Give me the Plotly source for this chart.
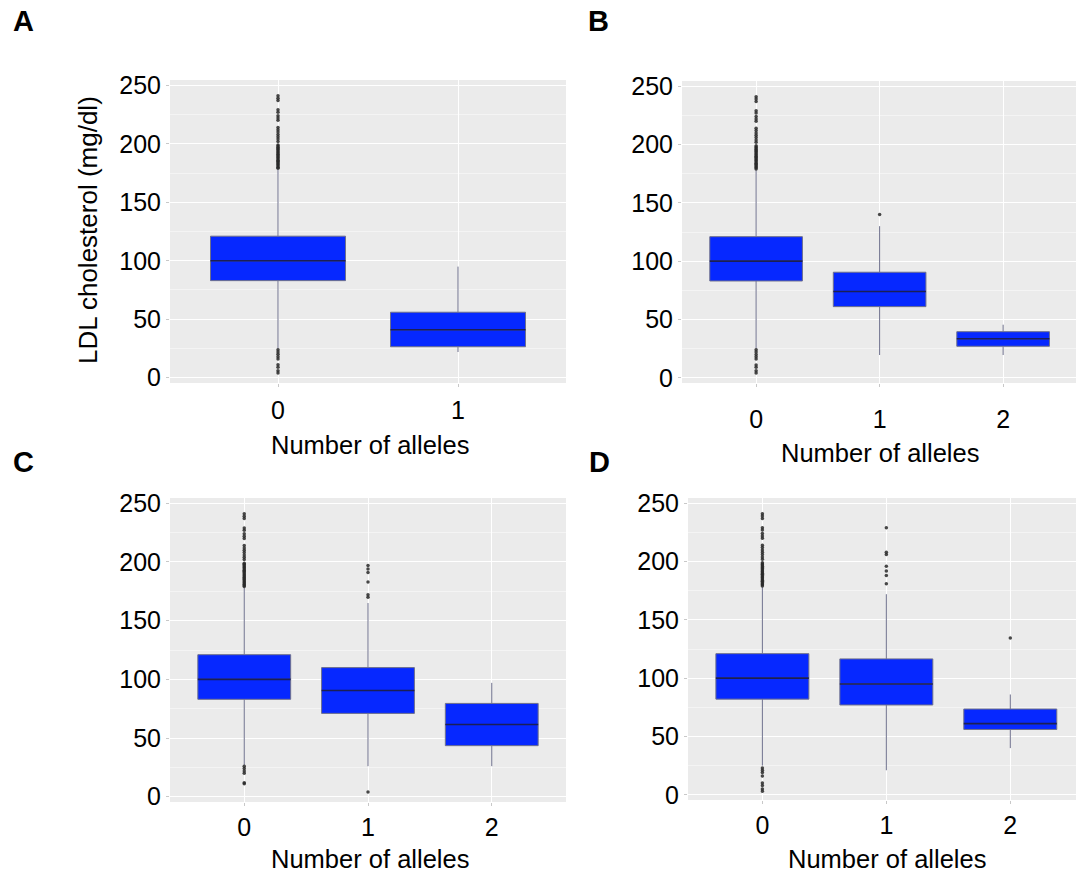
import plotly.graph_objects as go

W, H = 1076, 873

# ---------------- data ----------------
cats_2 = ["0", "1"]
cats_3 = ["0", "1", "2"]

# Panel A
A_q1 = [83, 26.5]
A_med = [100, 41]
A_q3 = [121, 56]
A_lo = [25, 22]
A_hi = [178, 95]

# Panel B
B_q1 = [83, 61, 27]
B_med = [100, 74, 33.5]
B_q3 = [121, 90.5, 39.5]
B_lo = [25, 19.5, 19.5]
B_hi = [178, 130, 45.5]

# Panel C
C_q1 = [83, 71, 43.5]
C_med = [100, 90.5, 61.5]
C_q3 = [121, 110, 79.5]
C_lo = [27, 26, 26]
C_hi = [178, 165, 97]

# Panel D
D_q1 = [82, 77, 56]
D_med = [100, 95, 61]
D_q3 = [121, 116.5, 73.5]
D_lo = [25, 21, 40]
D_hi = [178, 172, 86]

# outliers
G0_upper = [179, 180, 181, 182, 183, 184, 185, 186, 187, 188, 189, 190, 191, 192,
            193, 194, 195, 196, 197, 198, 199, 202, 204, 206, 208, 210, 212, 214,
            220, 222, 224, 227, 229, 237, 239, 241]
A_out0_low = [24, 22, 20, 18, 16, 11, 9, 6, 4]
B_out0_low = [24, 22, 20, 18, 16, 11, 9, 6, 4]
C_out0_low = [26, 24, 22, 20, 12, 11]
D_out0_low = [23, 21, 19, 16, 10, 8, 5, 3]

B_out1 = [140]
C_out1 = [170, 172, 183, 191, 194, 197, 4]
D_out1 = [229, 206, 208, 188, 192, 196, 181]
D_out2 = [134.5]

# ---------------- styling ----------------
FONT = "Liberation Sans, Arial, Helvetica, sans-serif"
BOX_FILL = "#0628FF"
BOX_LINE = "rgba(110,112,140,1)"
MED_LINE = "#1b1f55"
PT_COLOR = "rgba(40,40,40,0.85)"
TICK_SIZE = 25
TITLE_SIZE = 25.5

# pixel domains: (x0, x1, y0_top, y1_bottom)
panels = {
    "A": dict(dom=(170, 566, 80, 383), cats=cats_2, xr=[-0.6, 1.6],
              q1=A_q1, med=A_med, q3=A_q3, lo=A_lo, hi=A_hi,
              out=[("0", G0_upper + A_out0_low)], stand=2,
              title_xy=(370, 445), label_xy=(23, 21)),
    "B": dict(dom=(682, 1076, 81, 383), cats=cats_3, xr=[-0.6, 2.59],
              q1=B_q1, med=B_med, q3=B_q3, lo=B_lo, hi=B_hi,
              out=[("0", G0_upper + B_out0_low), ("1", B_out1)], stand=11,
              title_xy=(880, 453), label_xy=(598, 21)),
    "C": dict(dom=(170, 566, 498, 802), cats=cats_3, xr=[-0.6, 2.6],
              q1=C_q1, med=C_med, q3=C_q3, lo=C_lo, hi=C_hi,
              out=[("0", G0_upper + C_out0_low), ("1", C_out1)], stand=0,
              title_xy=(370, 859), label_xy=(23, 462)),
    "D": dict(dom=(688, 1076, 498, 800), cats=cats_3, xr=[-0.6, 2.53],
              q1=D_q1, med=D_med, q3=D_q3, lo=D_lo, hi=D_hi,
              out=[("0", G0_upper + D_out0_low), ("1", D_out1), ("2", D_out2)], stand=0,
              title_xy=(887, 859), label_xy=(599, 462)),
}

fig = go.Figure()
layout = dict(width=W, height=H, margin=dict(l=0, r=0, t=0, b=0, pad=0, autoexpand=False),
              paper_bgcolor="white", plot_bgcolor="#EBEBEB", showlegend=False,
              font=dict(family=FONT, size=TICK_SIZE, color="black"))
annotations = []

for i, (name, p) in enumerate(panels.items()):
    k = "" if i == 0 else str(i + 1)
    xa, ya = "x" + k, "y" + k
    x0, x1, yt, yb = p["dom"]
    layout["xaxis" + k] = dict(
        domain=[x0 / W, min(x1 / W, 1)], range=p["xr"], type="category",
        categoryorder="array", categoryarray=p["cats"], anchor=ya,
        showgrid=True, gridcolor="white", gridwidth=1.3, zeroline=False,
        ticks="outside", ticklen=3, tickcolor="#C8C8C8", tickwidth=1,
        ticklabelstandoff=p["stand"], tickfont=dict(size=TICK_SIZE, color="black"),
        showline=False, fixedrange=True, automargin=False)
    layout["yaxis" + k] = dict(
        domain=[1 - yb / H, 1 - yt / H], range=[-4.5, 254.5], anchor=xa,
        tickvals=[0, 50, 100, 150, 200, 250], showgrid=True, gridcolor="white",
        gridwidth=1.3, zeroline=False,
        minor=dict(tickvals=[25, 75, 125, 175, 225], showgrid=True,
                   gridcolor="#F4F4F4", gridwidth=0.6, ticks=""),
        ticks="outside", ticklen=3, tickcolor="#C8C8C8", tickwidth=1,
        tickfont=dict(size=TICK_SIZE, color="black"), showline=False,
        fixedrange=True, automargin=False)

    for cat, vals in p["out"]:
        fig.add_trace(go.Scatter(x=[cat] * len(vals), y=vals, mode="markers",
                                 marker=dict(size=3.5, color=PT_COLOR),
                                 xaxis=xa, yaxis=ya, hoverinfo="y"))
    fig.add_trace(go.Box(x=p["cats"], q1=p["q1"], median=p["med"], q3=p["q3"],
                         lowerfence=p["lo"], upperfence=p["hi"], width=0.75,
                         whiskerwidth=0, fillcolor=BOX_FILL,
                         line=dict(color=BOX_LINE, width=1), boxpoints=False,
                         xaxis=xa, yaxis=ya))
    fig.add_trace(go.Box(x=p["cats"], q1=p["med"], median=p["med"], q3=p["med"],
                         lowerfence=p["med"], upperfence=p["med"], width=0.75,
                         whiskerwidth=0, fillcolor="rgba(0,0,0,0)",
                         line=dict(color=MED_LINE, width=1.6), boxpoints=False,
                         xaxis=xa, yaxis=ya, hoverinfo="skip"))

    tx, ty = p["title_xy"]
    annotations.append(dict(text="Number of alleles", x=tx / W, y=1 - ty / H,
                            xref="paper", yref="paper", showarrow=False,
                            xanchor="center", yanchor="middle",
                            font=dict(size=TITLE_SIZE, color="black", family=FONT)))
    lx, ly = p["label_xy"]
    annotations.append(dict(text="<b>%s</b>" % name, x=lx / W, y=1 - ly / H,
                            xref="paper", yref="paper", showarrow=False,
                            xanchor="center", yanchor="middle",
                            font=dict(size=29, color="black", family=FONT)))

annotations.append(dict(text="LDL cholesterol (mg/dl)", x=88 / W, y=1 - 230 / H,
                        xref="paper", yref="paper", showarrow=False, textangle=-90,
                        xanchor="center", yanchor="middle",
                        font=dict(size=26, color="black", family=FONT)))

layout["annotations"] = annotations
fig.update_layout(**layout)
fig.write_html("out.html", config={"displayModeBar": False},
               post_script="document.body.style.margin='0px';document.body.style.padding='0px';")
